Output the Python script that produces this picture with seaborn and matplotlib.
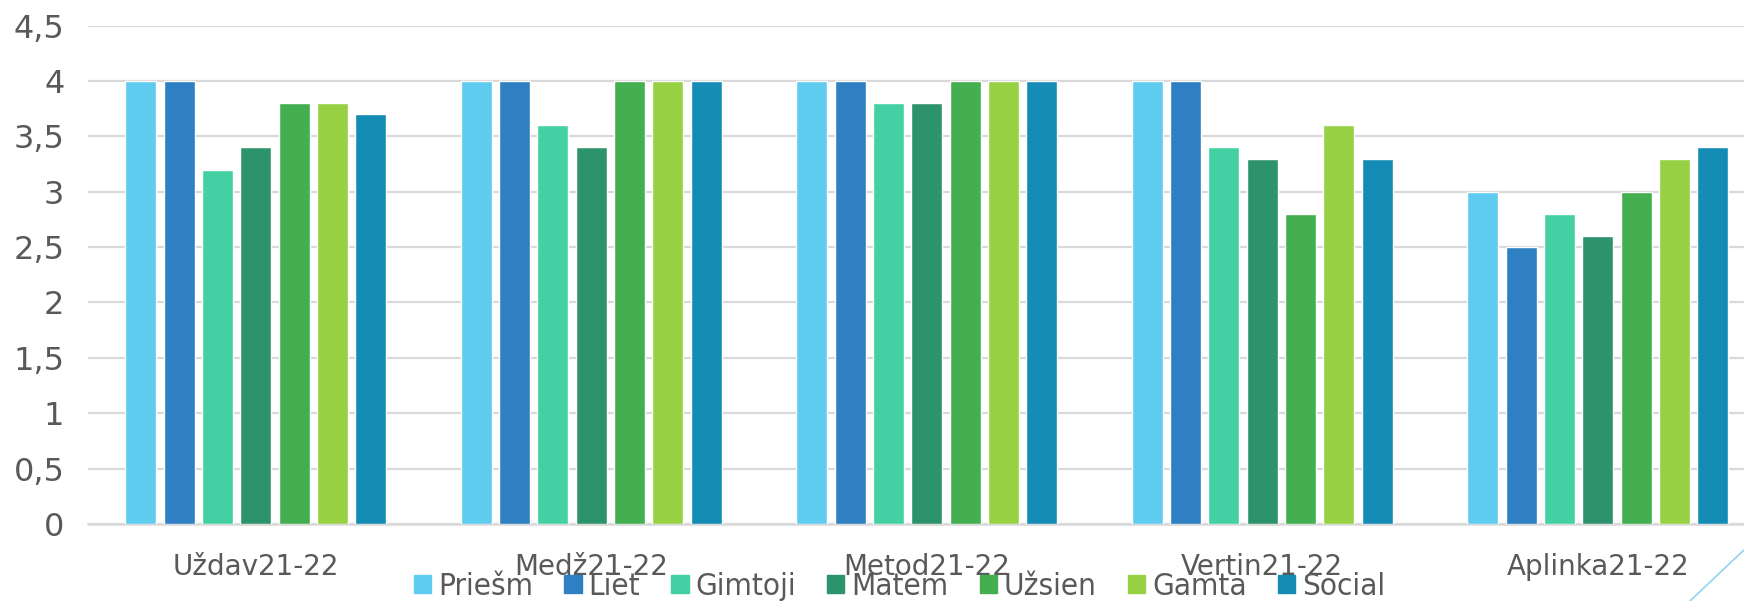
import pandas as pd
import matplotlib.pyplot as plt
import matplotlib.lines as mlines
from matplotlib import font_manager
import seaborn as sns

# data
categories = ["Uždav21-22", "Medž21-22", "Metod21-22", "Vertin21-22", "Aplinka21-22"]
series = ["Priešm", "Liet", "Gimtoji", "Matem", "Užsien", "Gamta", "Social"]
priesm = [4.0, 4.0, 4.0, 4.0, 3.0]
liet = [4.0, 4.0, 4.0, 4.0, 2.5]
gimtoji = [3.2, 3.6, 3.8, 3.4, 2.8]
matem = [3.4, 3.4, 3.8, 3.3, 2.6]
uzsien = [3.8, 4.0, 4.0, 2.8, 3.0]
gamta = [3.8, 4.0, 4.0, 3.6, 3.3]
social = [3.7, 4.0, 4.0, 3.3, 3.4]
y_ticks = [0, 0.5, 1, 1.5, 2, 2.5, 3, 3.5, 4, 4.5]
y_tick_labels = ["0", "0,5", "1", "1,5", "2", "2,5", "3", "3,5", "4", "4,5"]

colors = ["#5ECBEF", "#2E80C3", "#43D1A3", "#2D936D", "#43AF51", "#97D043", "#148CB6"]
text_col = "#595959"
grid_col = "#D9D9D9"

values = [priesm, liet, gimtoji, matem, uzsien, gamta, social]
rows = []
for name, vals in zip(series, values):
    for cat, v in zip(categories, vals):
        rows.append({"cat": cat, "series": name, "value": v})
df = pd.DataFrame(rows)

sns.set_theme(style="white")
plt.rcParams["font.family"] = ["DejaVu Sans"]

fig = plt.figure(figsize=(17.44, 6.01), dpi=100)
ax = fig.add_axes([88 / 1744, 1 - 524 / 601, 1677.5 / 1744, (524 - 25.6) / 601])

sns.barplot(data=df, x="cat", y="value", hue="series", order=categories,
            hue_order=series, palette=colors, width=0.8, gap=0.19,
            saturation=1, ax=ax, legend=False, zorder=3)

ax.set_ylim(0, 4.5)
ax.set_yticks(y_ticks)
ax.set_yticklabels(y_tick_labels)
ax.set_xlim(-0.5, len(categories) - 0.5)
ax.set_xlabel("")
ax.set_ylabel("")
ax.grid(axis="y", color=grid_col, linewidth=1.6, zorder=0)
ax.set_axisbelow(True)
for s in ["top", "right", "left"]:
    ax.spines[s].set_visible(False)
ax.spines["bottom"].set_color(grid_col)
ax.spines["bottom"].set_linewidth(1.8)
ax.tick_params(axis="y", labelsize=23, labelcolor=text_col, length=0, pad=17)
ax.tick_params(axis="x", labelsize=20, labelcolor=text_col, length=0, pad=21)

# condensed face for the legend if it is installed
legend_font = {"family": "DejaVu Sans", "size": 19}
names = {f.name for f in font_manager.fontManager.ttflist}
if "Liberation Sans Narrow" in names:
    legend_font = {"family": "Liberation Sans Narrow", "size": 23}
else:
    cond = [f for f in font_manager.fontManager.ttflist
            if f.name == "DejaVu Sans" and "ondensed" in f.fname and "Bold" not in f.fname
            and "Oblique" not in f.fname]
    if cond:
        legend_font = font_manager.FontProperties(fname=cond[0].fname, size=22.5)

handles = [plt.Rectangle((0, 0), 1, 1, color=c) for c in colors]
fig.legend(handles, series, loc="center", bbox_to_anchor=(0.5158, 0.024), ncol=7,
           frameon=False, handlelength=0.55, handleheight=0.55, handletextpad=0.22,
           columnspacing=1.0, prop=legend_font, labelcolor=text_col,
           borderpad=0.1)

# decorative slide line in the lower right corner
fig.add_artist(mlines.Line2D([1690 / 1744, 1744 / 1744], [0.0, 0.085],
                             color="#8FD3F0", linewidth=1.2))

fig.savefig("out.png", dpi=100)
